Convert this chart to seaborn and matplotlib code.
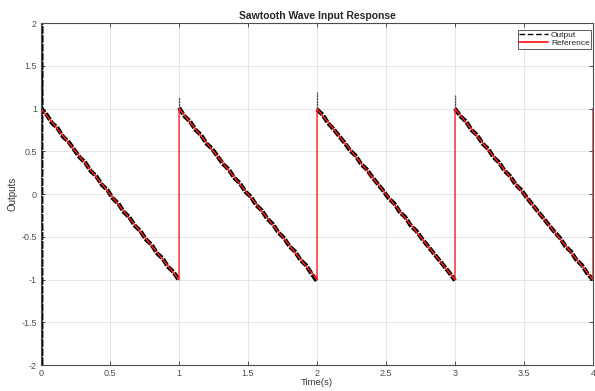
import numpy as np
import pandas as pd
import matplotlib
matplotlib.use('Agg')
import matplotlib.pyplot as plt
import seaborn as sns

# Reference sawtooth, read as breakpoints
ref_time = [0, 1, 1, 2, 2, 3, 3, 4, 4]
ref_vals = [1, -1, 1, -1, 1, -1, 1, -1, 1]

# Output samples inside one period (seconds from period start)
sample_t = [0.00, 0.04, 0.08, 0.12, 0.16, 0.20, 0.24, 0.28, 0.32, 0.36, 0.40, 0.44, 0.48,
            0.52, 0.56, 0.60, 0.64, 0.68, 0.72, 0.76, 0.80, 0.84, 0.88, 0.92, 0.96, 1.00]
out_p1 = [1.00, 0.93, 0.83, 0.77, 0.67, 0.61, 0.52, 0.43, 0.37, 0.27, 0.21, 0.11, 0.05,
          -0.05, -0.11, -0.21, -0.27, -0.37, -0.43, -0.53, -0.59, -0.69, -0.75, -0.85, -0.91, -1.01]
out_p2 = [1.01, 0.91, 0.85, 0.75, 0.69, 0.59, 0.53, 0.44, 0.35, 0.29, 0.19, 0.13, 0.03,
          -0.03, -0.13, -0.19, -0.29, -0.35, -0.45, -0.51, -0.61, -0.67, -0.77, -0.83, -0.93, -1.02]
out_p3 = [0.99, 0.93, 0.83, 0.76, 0.68, 0.60, 0.51, 0.45, 0.35, 0.29, 0.20, 0.12, 0.04,
          -0.05, -0.11, -0.21, -0.27, -0.37, -0.43, -0.52, -0.60, -0.68, -0.76, -0.84, -0.92, -1.01]
out_p4 = [1.00, 0.91, 0.85, 0.75, 0.69, 0.59, 0.53, 0.43, 0.37, 0.27, 0.21, 0.11, 0.05,
          -0.04, -0.12, -0.20, -0.28, -0.36, -0.44, -0.51, -0.61, -0.67, -0.77, -0.83, -0.93, -1.00]
out_periods = [out_p1, out_p2, out_p3, out_p4]

# start-up transient at t=0 and overshoot peaks at each reset
start_v = [-2.4, 2.4, -2.4, 2.4]
jump_time = [1, 2, 3]
jump_peak = [1.13, 1.19, 1.16]

rows = []
for k, vals in enumerate(out_periods):
    if k == 0:
        for v in start_v:
            rows.append((k, 0.0, v))
    for t, v in zip(sample_t, vals):
        rows.append((k, k + t, v))
out_df = pd.DataFrame(rows, columns=["period", "time", "value"])

spike_rows = []
for t, p in zip(jump_time, jump_peak):
    spike_rows += [(t, t, 1.0), (t, t, p)]
spike_df = pd.DataFrame(spike_rows, columns=["period", "time", "value"])

sns.set_theme(style="whitegrid")
plt.rcParams['font.family'] = ['Liberation Sans', 'DejaVu Sans']

fig = plt.figure(figsize=(5.95, 3.91), dpi=100)
ax = fig.add_axes([0.069, 0.066, 0.9276, 0.875])

sns.lineplot(data=out_df, x="time", y="value", units="period", sort=False, estimator=None,
             color="black", linewidth=3.0, ax=ax)
sns.lineplot(data=spike_df, x="time", y="value", units="period", sort=False, estimator=None,
             color="#555555", linewidth=1.0, ax=ax)
n_out = len(ax.lines)
sns.lineplot(x=ref_time, y=ref_vals, sort=False, estimator=None, color="#ff2020",
             linewidth=1.0, ax=ax)
for ln in ax.lines[:n_out]:
    ln.set_linestyle((0, (1.8, 0.35)))

ax.set_xlim(0, 4)
ax.set_ylim(-2, 2)
ax.set_xticks(np.arange(0, 4.01, 0.5))
ax.set_yticks(np.arange(-2, 2.01, 0.5))
ax.set_xticklabels(["0", "0.5", "1", "1.5", "2", "2.5", "3", "3.5", "4"])
ax.set_yticklabels(["-2", "-1.5", "-1", "-0.5", "0", "0.5", "1", "1.5", "2"])

ax.grid(True, color="#e6e6e6", linewidth=0.7)
for s in ax.spines.values():
    s.set_color("#4d4d4d")
    s.set_linewidth(0.8)
ax.tick_params(direction="in", length=3, width=0.7, colors="#4d4d4d", labelsize=6.5,
               top=True, right=True, bottom=True, left=True, pad=3)

ax.set_title("Sawtooth Wave Input Response", fontsize=7.5, fontweight="bold", pad=3)
ax.set_xlabel("Time(s)", fontsize=6.8, labelpad=0, color="#333333")
ax.set_ylabel("Outputs", fontsize=7, labelpad=3, color="#333333")

handles = [plt.Line2D([], [], color="black", lw=1.0, ls=(0, (4, 2))),
           plt.Line2D([], [], color="#ff2020", lw=1.3)]
leg = ax.legend(handles, ["Output", "Reference"], loc="upper right",
                bbox_to_anchor=(0.997, 0.981), fontsize=6, frameon=True, fancybox=False,
                borderpad=0.2, handlelength=3.4, labelspacing=0.05, handletextpad=0.4,
                borderaxespad=0)
leg.get_frame().set_edgecolor("#333333")
leg.get_frame().set_linewidth(0.7)

fig.savefig("out.png", dpi=100, facecolor="white")
